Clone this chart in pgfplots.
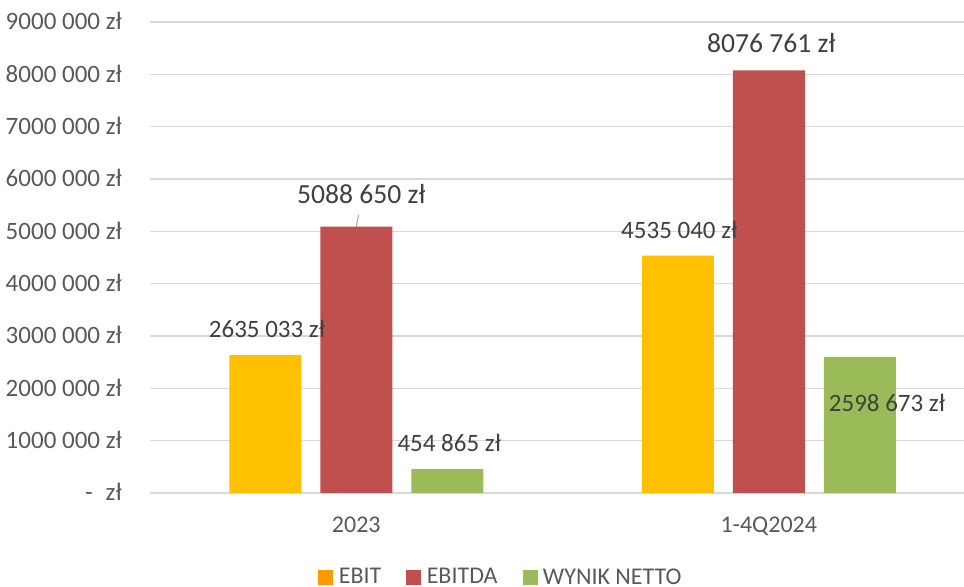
\documentclass[border=0pt]{standalone}
\usepackage{fontspec}
\setmainfont{Carlito}
\usepackage{pgfplots}
\pgfplotsset{compat=1.18}
\definecolor{ebit}{HTML}{FFC000}
\definecolor{ebitleg}{HTML}{FF9900}
\definecolor{ebitda}{HTML}{C0504D}
\definecolor{netto}{HTML}{9BBB59}
\definecolor{tickc}{HTML}{595959}
\definecolor{labc}{HTML}{404040}
\definecolor{gridc}{HTML}{D9D9D9}
\newcommand{\fs}[1]{\fontsize{#1}{#1}\selectfont}
\begin{document}
\begin{tikzpicture}
\begin{axis}[name=ax, scale only axis, width=814pt, height=471pt,
 xmin=-0.5, xmax=1.4733, ymin=0, ymax=9000000,
 axis line style={draw=none}, major tick length=0pt,
 ymajorgrids, grid style={draw=gridc, line width=1.5pt},
 ytick={0,1000000,2000000,3000000,4000000,5000000,6000000,7000000,8000000,9000000},
 yticklabels={{-\hspace{13pt}zł},{1000 000 zł},{2000 000 zł},{3000 000 zł},{4000 000 zł},{5000 000 zł},{6000 000 zł},{7000 000 zł},{8000 000 zł},{9000 000 zł}},
 yticklabel style={anchor=base east, inner sep=0pt, xshift=-28pt, yshift=-8pt, font=\fs{25}, text=tickc},
 xtick={0,1}, xticklabels={2023,1-4Q2024},
 xticklabel style={anchor=base, inner sep=0pt, yshift=-39.7pt, font=\fs{24}, text=tickc},
 scaled y ticks=false,
 clip=false,
 legend columns=3,
 legend image code/.code={\fill[#1] (0pt,-7pt) rectangle (14pt,7pt);},
 legend style={at={(axis description cs:0.43,-0.1783)}, anchor=center, draw=none, fill=none,
   font=\fs{24}, text=tickc, nodes={inner sep=0pt},
   /tikz/every even column/.append style={column sep=25pt}},
]
\addplot[ybar, bar width=72pt, bar shift=-91pt, fill=ebit, draw=none, forget plot] coordinates {(0,2635033) (1,4535040)};
\addplot[ybar, bar width=72pt, bar shift=0pt, fill=ebitda, draw=none, forget plot] coordinates {(0,5088650) (1,8076761)};
\addplot[ybar, bar width=72pt, bar shift=91pt, fill=netto, draw=none, forget plot] coordinates {(0,454865) (1,2598673)};
\addlegendimage{ebitleg}
\addlegendentry{\hspace{6pt}EBIT}
\addlegendimage{ebitda}
\addlegendentry{\hspace{6pt}EBITDA}
\addlegendimage{netto}
\addlegendentry{\hspace{6pt}WYNIK NETTO}
\begin{scope}[every node/.style={text=labc, inner sep=0pt, anchor=base}]
\node[font=\fs{25}, xshift=-89.3pt, yshift=17.7pt] at (axis cs:0,2635033) {2635 033 zł};
\draw[draw=gray!70, line width=1pt] (axis cs:0,5088650) -- ++(2.3pt,11.7pt);
\node[font=\fs{27.6}, xshift=5pt, yshift=23.3pt] at (axis cs:0,5088650) {5088 650 zł};
\node[font=\fs{25}, xshift=93pt, yshift=17.3pt] at (axis cs:0,454865) {454 865 zł};
\node[font=\fs{25}, xshift=-89.5pt, yshift=17.3pt] at (axis cs:1,4535040) {4535 040 zł};
\node[font=\fs{27.6}, xshift=2.5pt, yshift=17.9pt] at (axis cs:1,8076761) {8076 761 zł};
\node[font=\fs{25}, xshift=118.2pt, yshift=-54.2pt] at (axis cs:1,2598673) {2598 673 zł};
\end{scope}
\end{axis}
\pgfresetboundingbox
\path ([xshift=-150pt,yshift=-94pt]ax.south west) rectangle ([yshift=22pt]ax.north east);
\end{tikzpicture}
\end{document}
